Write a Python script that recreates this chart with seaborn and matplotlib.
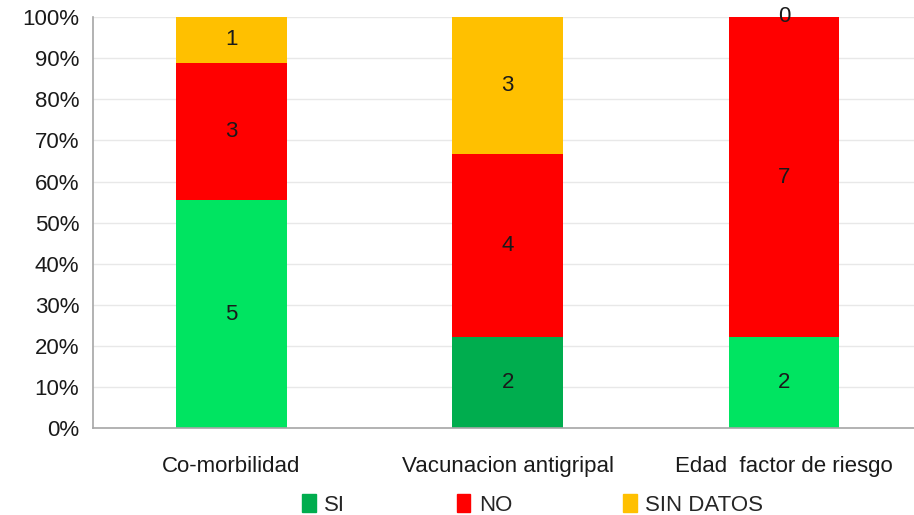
import matplotlib
matplotlib.use("Agg")
import matplotlib.pyplot as plt
import matplotlib.patches as mpatches
from matplotlib.ticker import PercentFormatter
import seaborn as sns
import numpy as np
import pandas as pd

categories = ["Co-morbilidad", "Vacunacion antigripal", "Edad  factor de riesgo"]
si = [5, 2, 2]
no = [3, 4, 7]
sin_datos = [1, 3, 0]
series_names = ["SI", "NO", "SIN DATOS"]

si_colors = ["#00E461", "#00AD4E", "#00E461"]
no_color = "#FF0000"
sd_color = "#FFC000"
legend_colors = ["#00AD4E", no_color, sd_color]

sns.set_style("white")
plt.rcParams['font.family'] = ['Liberation Sans', 'DejaVu Sans']
FS = 16

df = pd.DataFrame({"cat": categories, "SI": si, "NO": no, "SIN DATOS": sin_datos})
total = df[series_names].sum(axis=1)
pct = df[series_names].div(total, axis=0) * 100

fig, ax = plt.subplots(figsize=(9.14, 5.15), dpi=100)
fig.subplots_adjust(left=0.102, right=1.0, top=0.967, bottom=0.168)

bottom = np.zeros(len(categories))
layer_colors = {"SI": si_colors[0], "NO": no_color, "SIN DATOS": sd_color}
for name in series_names:
    sns.barplot(x=df["cat"], y=pct[name].values, color=layer_colors[name], bottom=bottom,
                width=0.4, ax=ax, saturation=1, edgecolor="none", order=categories)
    bottom = bottom + pct[name].values

# SI layer has a darker bar for the middle category
for patch, col in zip(ax.containers[0], si_colors):
    patch.set_facecolor(col)

# value labels (counts)
for c, name in zip(ax.containers, series_names):
    ax.bar_label(c, labels=[str(v) for v in df[name]], label_type="center",
                 fontsize=FS, color="#1a1a1a")

ax.yaxis.set_major_locator(plt.MultipleLocator(10))
ax.yaxis.set_major_formatter(PercentFormatter(decimals=0))
ax.grid(axis="y", color="#E8E8E8", linewidth=1)
ax.set_axisbelow(True)
ax.set_xlabel("")
ax.set_ylabel("")
ax.set_xticks([0, 1, 2])
ax.set_xticklabels(categories)
ax.set_xticks([-0.5, 0.5, 1.5, 2.5], minor=True)
ax.set_ylim(0, 100)
ax.set_xlim(-0.5, 2.47)
ax.tick_params(axis="x", which="major", length=0, pad=20, labelsize=FS, colors="#1a1a1a")
ax.tick_params(axis="x", which="minor", length=8, color="#A6A6A6", direction="out")
ax.tick_params(axis="y", length=6, color="#A6A6A6", direction="out", labelsize=FS,
               labelcolor="#1a1a1a", pad=4)
for s in ["top", "right"]:
    ax.spines[s].set_visible(False)
for s in ["left", "bottom"]:
    ax.spines[s].set_color("#A6A6A6")
    ax.spines[s].set_linewidth(1.2)

handles = [mpatches.Patch(color=c, label=n) for c, n in zip(legend_colors, series_names)]
fig.legend(handles=handles, loc="lower center", ncol=3, frameon=False, fontsize=FS,
           bbox_to_anchor=(0.583, -0.04), handlelength=0.6, handleheight=0.9,
           handletextpad=0.4, columnspacing=5.0)

plt.savefig("out.png", dpi=100)
plt.close()
